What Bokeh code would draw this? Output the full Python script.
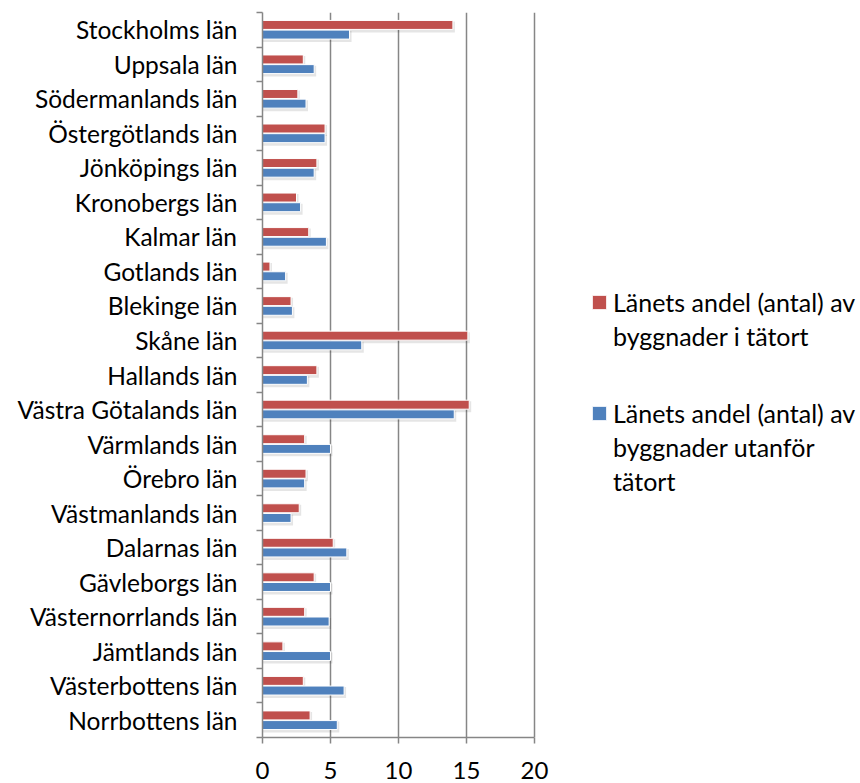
from bokeh.plotting import figure
from bokeh.models import ColumnDataSource, FixedTicker, Legend, LegendItem
from bokeh.transform import dodge
from bokeh.embed import file_html
from bokeh.resources import INLINE

categories = ["Stockholms län", "Uppsala län", "Södermanlands län", "Östergötlands län",
              "Jönköpings län", "Kronobergs län", "Kalmar län", "Gotlands län",
              "Blekinge län", "Skåne län", "Hallands län", "Västra Götalands län",
              "Värmlands län", "Örebro län", "Västmanlands län", "Dalarnas län",
              "Gävleborgs län", "Västernorrlands län", "Jämtlands län",
              "Västerbottens län", "Norrbottens län"]
in_tatort = [14.0, 3.0, 2.6, 4.6, 4.0, 2.5, 3.4, 0.55, 2.1, 15.1, 4.0, 15.2,
             3.1, 3.2, 2.7, 5.2, 3.8, 3.1, 1.5, 3.0, 3.5]
utanfor_tatort = [6.4, 3.8, 3.2, 4.6, 3.8, 2.8, 4.7, 1.7, 2.2, 7.3, 3.3, 14.1,
                  5.0, 3.1, 2.1, 6.2, 5.0, 4.9, 5.0, 6.0, 5.5]
x_ticks = [0, 5, 10, 15, 20]
label_red = ["Länets andel (antal) av", "byggnader i tätort"]
label_blue = ["Länets andel (antal) av", "byggnader utanför", "tätort"]

n = len(categories)
pos = [n - i - 0.5 for i in range(n)]

FONT = "Lato"
GRAY = "#868686"

W, H = 860, 783
LEFT, TOP, BOTTOM = 262, 12, 46
AXIS_PX = 272  # pixels for 0..20
frame_w = W - LEFT
x_end = x_ticks[-1] * frame_w / AXIS_PX
px_x = x_ticks[-1] / AXIS_PX          # data units per pixel (x)
px_y = n / (H - TOP - BOTTOM)          # data units per pixel (y)

src = ColumnDataSource(dict(
    pos=pos, red=in_tatort, blue=utanfor_tatort,
    red_sh=[v + 2 * px_x for v in in_tatort],
    blue_sh=[v + 2 * px_x for v in utanfor_tatort]))

p = figure(width=W, height=H, x_range=(0, x_end), y_range=(0, n),
           output_backend="svg", toolbar_location=None,
           min_border_left=LEFT, min_border_right=0,
           min_border_top=TOP, min_border_bottom=BOTTOM)
p.outline_line_color = None
p.background_fill_color = "white"
p.border_fill_color = "white"

BAR_H = 0.26
OFF = 0.14
# soft shadows
for off, col in ((OFF, "red_sh"), (-OFF, "blue_sh")):
    p.hbar(y=dodge("pos", off - 2 * px_y), left=0, right=col, height=BAR_H + 2 * px_y,
           source=src, fill_color="black", fill_alpha=0.10, line_color=None)

r1 = p.hbar(y=dodge("pos", OFF), left=0, right="red", height=BAR_H, source=src,
            fill_color="#C0504D", line_color="white", line_width=1)
r2 = p.hbar(y=dodge("pos", -OFF), left=0, right="blue", height=BAR_H, source=src,
            fill_color="#4F81BD", line_color="white", line_width=1)
# invisible renderer used for continuation lines of the legend labels
blank = p.hbar(y=[], left=[], right=[], height=BAR_H,
               fill_alpha=0, line_alpha=0)

# x axis
p.xaxis.bounds = (x_ticks[0], x_ticks[-1])
p.xaxis.ticker = FixedTicker(ticks=x_ticks)
p.xaxis.axis_line_color = GRAY
p.xaxis.axis_line_width = 1.5
p.xaxis.major_tick_line_color = GRAY
p.xaxis.major_tick_line_width = 1.5
p.xaxis.major_tick_out = 6
p.xaxis.major_tick_in = 0
p.xaxis.minor_tick_line_color = None
p.xaxis.major_label_standoff = 18
p.xaxis.major_label_text_font = FONT
p.xaxis.major_label_text_font_size = "24px"
p.xaxis.major_label_text_color = "black"

# y axis: labels at centers, ticks at boundaries
p.yaxis.ticker = FixedTicker(ticks=pos, minor_ticks=list(range(n + 1)))
p.yaxis.major_label_overrides = {pv: c for pv, c in zip(pos, categories)}
p.yaxis.major_tick_line_color = None
p.yaxis.major_tick_out = 0
p.yaxis.major_tick_in = 0
p.yaxis.minor_tick_line_color = GRAY
p.yaxis.minor_tick_line_width = 1.5
p.yaxis.minor_tick_out = 6
p.yaxis.minor_tick_in = 0
p.yaxis.axis_line_color = GRAY
p.yaxis.axis_line_width = 1.5
p.yaxis.major_label_standoff = 19
p.yaxis.major_label_text_font = FONT
p.yaxis.major_label_text_font_size = "24.5px"
p.yaxis.major_label_text_color = "black"

p.xgrid.ticker = FixedTicker(ticks=x_ticks[1:])
p.xgrid.grid_line_color = GRAY
p.xgrid.grid_line_width = 1.5
p.ygrid.grid_line_color = None


def make_legend(lines, renderer, loc):
    items = [LegendItem(label=lines[0], renderers=[renderer])]
    items += [LegendItem(label=t, renderers=[blank]) for t in lines[1:]]
    lg = Legend(items=items, location=loc)
    lg.padding = 0
    lg.margin = 0
    lg.spacing = 0
    lg.border_line_color = None
    lg.background_fill_alpha = 0
    lg.glyph_width = 18
    lg.glyph_height = 18
    lg.label_height = 34
    lg.label_standoff = 5
    lg.label_text_font = FONT
    lg.label_text_font_size = "25px"
    lg.label_text_color = "black"
    return lg


p.add_layout(make_legend(label_red, r1, (328, 384)), "center")
p.add_layout(make_legend(label_blue, r2, (328, 239)), "center")

open("out.html", "w").write(file_html(p, INLINE))
